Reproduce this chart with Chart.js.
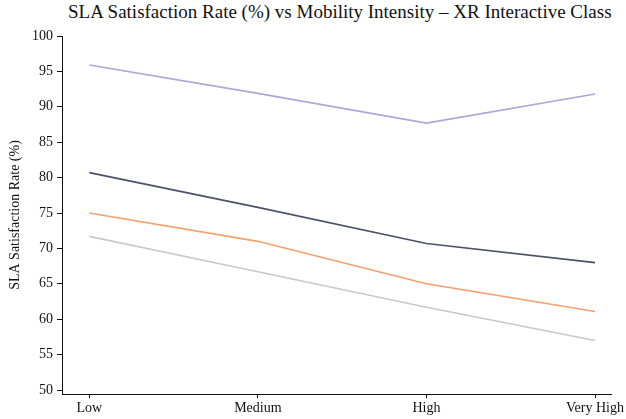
<!DOCTYPE html>
<html>
<head>
<meta charset="utf-8">
<script src="https://cdn.jsdelivr.net/npm/chart.js@4"></script>
<style>
html,body{margin:0;padding:0;background:#fff;}
#wrap{position:relative;width:626px;height:419px;}
#title{position:absolute;left:68px;top:1px;font-family:"Times New Roman",Times,"Liberation Serif","DejaVu Serif",serif;font-size:19px;color:#111;white-space:nowrap;}
canvas{position:absolute;left:0;top:0;}
</style>
</head>
<body>
<div id="wrap">
<div id="title">SLA Satisfaction Rate (%) vs Mobility Intensity – XR Interactive Class</div>
<canvas id="c" width="626" height="419"></canvas>
</div>
<script>
const categories = ["Low", "Medium", "High", "Very High"];
const yTicks = [50, 55, 60, 65, 70, 75, 80, 85, 90, 95, 100];
const seriesPurple = [95.9, 91.9, 87.7, 91.8];
const seriesSlate  = [80.7, 75.8, 70.7, 68.0];
const seriesOrange = [75.0, 71.0, 65.0, 61.1];
const seriesGray   = [71.7, 66.7, 61.7, 57.0];

function pts(arr){ return arr.map((v,i)=>({x:i,y:v})); }
const serif = '"Times New Roman", Times, "Liberation Serif", "DejaVu Serif", serif';

new Chart(document.getElementById('c'), {
  type: 'line',
  data: {
    datasets: [
      {data: pts(seriesPurple), borderColor:'#aea6da', borderWidth:1.6},
      {data: pts(seriesSlate),  borderColor:'#4b5169', borderWidth:1.6},
      {data: pts(seriesOrange), borderColor:'#f5a06c', borderWidth:1.6},
      {data: pts(seriesGray),   borderColor:'#c9c9c9', borderWidth:1.6}
    ].map(d=>Object.assign(d,{pointRadius:0,tension:0,fill:false}))
  },
  options: {
    responsive:false,
    animation:false,
    layout:{padding:{top:36,right:0,left:0,bottom:0}},
    plugins:{legend:{display:false},tooltip:{enabled:false},title:{display:false}},
    scales:{
      x:{
        type:'linear', min:-0.162, max:3.098,
        afterBuildTicks:(s)=>{s.ticks=categories.map((c,i)=>({value:i}));},
        afterFit:(s)=>{s.height=25;},
        ticks:{callback:(v)=>categories[v], font:{family:serif,size:14}, color:'#111', padding:2, maxRotation:0, autoSkip:false},
        grid:{drawOnChartArea:false, drawTicks:true, tickLength:4, color:'#111'},
        border:{display:true,color:'#111',width:1}
      },
      y:{
        min:49.44, max:100,
        afterBuildTicks:(s)=>{s.ticks=yTicks.map(v=>({value:v}));},
        afterFit:(s)=>{s.width=62;},
        ticks:{font:{family:serif,size:14}, color:'#111', padding:4},
        grid:{drawOnChartArea:false, drawTicks:true, tickLength:5, color:'#111'},
        border:{display:true,color:'#111',width:1},
        title:{display:true,text:'SLA Satisfaction Rate (%)',font:{family:serif,size:14},color:'#111',padding:{top:7,bottom:0}}
      }
    }
  }
});
</script>
</body>
</html>
